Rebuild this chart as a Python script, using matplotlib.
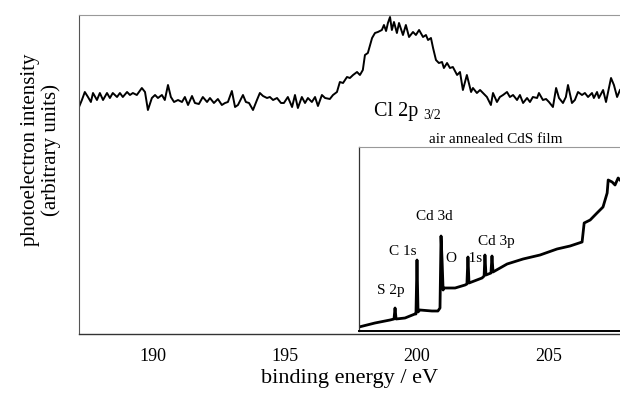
import matplotlib
matplotlib.use("Agg")
import matplotlib.pyplot as plt

plt.rcParams['font.family'] = ['Liberation Serif', 'DejaVu Serif']

# ---- main spectrum: Cl 2p region (binding energy in eV, intensity arbitrary) ----
energy = [
    187.20, 187.31, 187.42, 187.54, 187.65, 187.73, 187.88, 187.99, 188.11, 188.26,
    188.37, 188.48, 188.64, 188.75, 188.86, 189.02, 189.13, 189.24, 189.39, 189.58,
    189.70, 189.81, 189.96, 190.08, 190.19, 190.34, 190.45, 190.57, 190.68, 190.80,
    190.95, 191.10, 191.21, 191.33, 191.48, 191.59, 191.74, 191.89, 192.05, 192.16,
    192.31, 192.46, 192.61, 192.73, 192.84, 192.99, 193.11, 193.22, 193.41, 193.52,
    193.64, 193.79, 193.94, 194.05, 194.17, 194.32, 194.43, 194.55, 194.70, 194.85,
    194.96, 195.11, 195.27, 195.38, 195.49, 195.64, 195.76, 195.87, 196.02, 196.14,
    196.25, 196.40, 196.52, 196.70, 196.82, 196.97, 197.08, 197.20, 197.35, 197.46,
    197.58, 197.73, 197.84, 197.95, 198.03, 198.14, 198.30, 198.41, 198.52, 198.67,
    198.75, 198.83, 198.90, 198.98, 199.05, 199.13, 199.24, 199.32, 199.47, 199.58,
    199.70, 199.85, 199.96, 200.08, 200.23, 200.34, 200.42, 200.53, 200.61, 200.72,
    200.83, 200.95, 201.02, 201.14, 201.25, 201.36, 201.52, 201.63, 201.74, 201.89,
    202.05, 202.12, 202.27, 202.39, 202.50, 202.65, 202.80, 202.88, 203.03, 203.14,
    203.26, 203.41, 203.52, 203.64, 203.79, 203.90, 204.02, 204.17, 204.28, 204.39,
    204.55, 204.62, 204.77, 204.89, 205.00, 205.15, 205.27, 205.38, 205.53, 205.64,
    205.72, 205.87, 205.98, 206.10, 206.25, 206.36, 206.48, 206.63, 206.70, 206.82,
    206.89, 207.05, 207.16, 207.35, 207.46, 207.58, 207.69,
]
intensity = [
    225, 232, 240, 235, 230, 239, 232, 239, 232, 239,
    234, 239, 235, 239, 235, 240, 237, 239, 237, 244,
    240, 222, 234, 237, 234, 237, 232, 247, 235, 230,
    232, 230, 235, 227, 236, 229, 228, 235, 230, 234,
    229, 233, 227, 229, 230, 241, 225, 227, 237, 230,
    229, 222, 232, 239, 236, 234, 235, 232, 234, 229,
    229, 235, 225, 237, 224, 235, 229, 234, 230, 235,
    226, 237, 234, 233, 237, 240, 250, 249, 255, 254,
    257, 260, 257, 262, 277, 279, 294, 299, 300, 302,
    307, 301, 309, 315, 302, 310, 299, 309, 297, 307,
    295, 300, 297, 302, 295, 297, 292, 294, 284, 272,
    269, 270, 264, 269, 264, 265, 257, 260, 242, 257,
    240, 244, 239, 242, 239, 235, 227, 239, 230, 235,
    237, 240, 235, 237, 232, 237, 229, 234, 230, 235,
    234, 239, 232, 233, 230, 225, 244, 234, 229, 235,
    247, 229, 232, 240, 237, 239, 235, 239, 234, 240,
    234, 242, 230, 254, 247, 235, 242,
]
xticks = [190, 195, 200, 205]

# ---- inset: survey spectrum (binding energy in eV, intensity arbitrary) ----
survey_energy = [
    5, 82, 155, 174, 179, 184, 227, 275, 280, 285,
    290, 299, 357, 386, 396, 401, 406, 411, 415, 469,
    517, 526, 531, 536, 599, 609, 613, 618, 642, 647,
    652, 720, 797, 879, 961, 1024, 1082, 1092, 1121, 1154,
    1183, 1203, 1208, 1227, 1241, 1256, 1265,
]
survey_counts = [
    3, 7, 10, 11, 22, 11, 12, 16, 16, 70,
    18, 20, 19, 19, 22, 94, 70, 40, 42, 42,
    45, 46, 73, 47, 52, 54, 75, 55, 57, 74,
    58, 66, 71, 75, 81, 84, 88, 107, 110, 117,
    123, 137, 150, 148, 145, 152, 150,
]
survey_labels = ["S 2p", "C 1s", "Cd 3d", "O   1s", "Cd 3p"]
survey_label_x = [159, 217, 367, 510, 667]
survey_label_y = [36, 75, 110, 68, 85]

W, H = 620, 399
fig = plt.figure(figsize=(W / 100, H / 100), dpi=100)

def px_box(x0, y0, x1, y1):
    return [x0 / W, 1 - y1 / H, (x1 - x0) / W, (y1 - y0) / H]

ax = fig.add_axes(px_box(79, 15, 620, 334))
ax.plot(energy, intensity, color='black', lw=1.4)
ax.set_xlim(187.20, 207.69)
ax.set_ylim(-2, 317)
ax.set_xticks(xticks)
ax.set_xticklabels([str(t) for t in xticks])
ax.set_yticks([])
ax.tick_params(axis='x', length=0, pad=10, labelsize=13)
ax.spines['right'].set_visible(False)
ax.spines['top'].set_color('#999999')
ax.spines['top'].set_linewidth(0.8)
ax.spines['left'].set_color('#555555')
ax.spines['left'].set_linewidth(0.8)
ax.spines['bottom'].set_color('#333333')
ax.spines['bottom'].set_linewidth(1.0)
ax.set_xlabel('binding energy / eV', fontsize=16, labelpad=3)

fig.text(41 / W, 1 - 150 / H, 'photoelectron intensity\n(arbitrary units)',
         rotation=90, ha='center', va='center', fontsize=15,
         multialignment='center', linespacing=1.05)

ax.text(198.37, 216, 'Cl 2p', fontsize=14.5, ha='left', va='baseline')
ax.text(200.23, 213, '3/2', fontsize=10, ha='left', va='baseline')
ax.text(202.99, 189, 'air annealed CdS film', fontsize=11, ha='center', va='baseline')

ins = fig.add_axes(px_box(359, 147, 620, 331))
ins.plot(survey_energy, survey_counts, color='black', lw=2.0)
ins.set_xlim(5, 1265)
ins.set_ylim(-1, 183)
ins.set_xticks([])
ins.set_yticks([])
ins.spines['right'].set_visible(False)
ins.spines['top'].set_color('#999999')
ins.spines['top'].set_linewidth(0.8)
ins.spines['left'].set_color('#333333')
ins.spines['left'].set_linewidth(0.9)
ins.spines['bottom'].set_color('black')
ins.spines['bottom'].set_linewidth(1.4)
for lab, lx, ly in zip(survey_labels, survey_label_x, survey_label_y):
    ins.text(lx, ly, lab, fontsize=11, ha='center', va='baseline')

fig.savefig('out.png', dpi=100)
